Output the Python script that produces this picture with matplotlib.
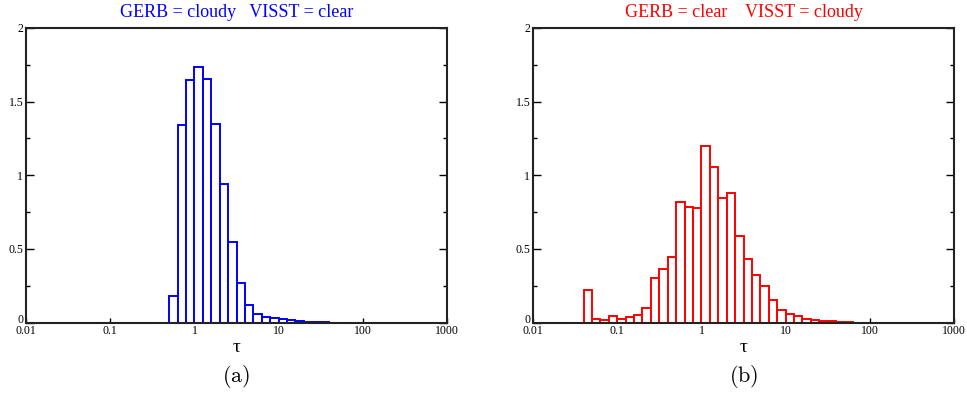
#!/usr/bin/env python3
"""
Optical depth histograms for GERB / VISST cloud-mask disagreement
"""

import matplotlib
matplotlib.use('Agg')
import matplotlib.pyplot as plt
import matplotlib.transforms as mtransforms
from matplotlib.ticker import MultipleLocator, NullLocator
import numpy as np

# log10(tau) bin width and the lower edge of the first non-empty bin
bin_width = 0.1
left_first_edge = -0.3
right_first_edge = -1.4

# GERB = cloudy, VISST = clear
left_counts = [0.18, 1.34, 1.65, 1.735, 1.655, 1.35, 0.94, 0.545, 0.27, 0.12,
               0.059, 0.04, 0.03, 0.022, 0.015, 0.01, 0.006, 0.004, 0.002]

# GERB = clear, VISST = cloudy
right_counts = [0.22, 0.022, 0.015, 0.043, 0.026, 0.04, 0.051, 0.10, 0.305, 0.36,
                0.445, 0.82, 0.785, 0.78, 1.2, 1.055, 0.845, 0.88, 0.59, 0.43,
                0.32, 0.248, 0.155, 0.083, 0.056, 0.042, 0.026, 0.02, 0.013,
                0.008, 0.005, 0.003]

xticks = [0.01, 0.1, 1, 10, 100, 1000]
xticklabels = ['0.01', '0.1', '1', '10', '100', '1000']
yticks = [0, 0.5, 1, 1.5, 2]
yticklabels = ['0', '0.5', '1', '1.5', '2']

titles = ['GERB = cloudy   VISST = clear', 'GERB = clear    VISST = cloudy']
colors = ['#0000ff', '#ff0000']
panel_labels = [r'$\mathrm{(a)}$', r'$\mathrm{(b)}$']

plt.rcParams['mathtext.fontset'] = 'cm'
serif = 'Liberation Serif'


def draw_hist(ax, first_edge, counts, color):
    """Step-style histogram on a log tau axis"""
    lo = first_edge + bin_width * np.arange(len(counts))
    left = 10 ** lo
    right = 10 ** (lo + bin_width)
    ax.bar(left, counts, width=right - left, align='edge',
           facecolor='white', edgecolor=color, linewidth=1.4, zorder=2)
    # empty bins draw along the baseline
    ax.plot([0.01, 1000], [0, 0], color=color, linewidth=1.4, zorder=2)


fig = plt.figure(figsize=(9.67, 3.94), dpi=100)
positions = [[26 / 967, 1 - 322.5 / 394, 421 / 967, 294.5 / 394],
             [533 / 967, 1 - 322.5 / 394, 421 / 967, 294.5 / 394]]

for i, (first_edge, counts) in enumerate([(left_first_edge, left_counts),
                                          (right_first_edge, right_counts)]):
    ax = fig.add_axes(positions[i])
    draw_hist(ax, first_edge, counts, colors[i])
    ax.set_xscale('log')
    ax.set_xlim(0.01, 1000)
    ax.set_ylim(0, 2)
    ax.set_xticks(xticks)
    ax.set_xticklabels(xticklabels, fontfamily=serif, fontsize=8.5)
    ax.xaxis.set_minor_locator(NullLocator())
    ax.set_yticks(yticks)
    ax.set_yticklabels(yticklabels, fontfamily=serif, fontsize=8.5)
    ax.yaxis.set_minor_locator(MultipleLocator(0.25))
    ax.tick_params(axis='x', direction='in', length=3.6, width=1, pad=2)
    ax.tick_params(axis='y', which='major', direction='in', length=5.8,
                   width=1, right=True, pad=2)
    ax.tick_params(axis='y', which='minor', direction='in', length=2.9,
                   width=1, right=True)
    # lift the "0" label a touch so it sits just above "0.01"
    zero_lbl = ax.get_yticklabels()[0]
    zero_lbl.set_transform(zero_lbl.get_transform() +
                           mtransforms.ScaledTranslation(0, 3 / 72,
                                                         fig.dpi_scale_trans))
    for sp in ax.spines.values():
        sp.set_linewidth(1.5)
        sp.set_color('#222222')
        sp.set_zorder(3)
    ax.set_title(titles[i], color=colors[i], fontfamily=serif, fontsize=13,
                 pad=8)
    ax.set_xlabel('τ', fontfamily=serif, fontsize=14, labelpad=1)
    ax.text(0.5, -0.185, panel_labels[i], transform=ax.transAxes,
            ha='center', va='center', fontsize=16)

plt.savefig('out.png', dpi=100)
print("Saved plot: out.png")
